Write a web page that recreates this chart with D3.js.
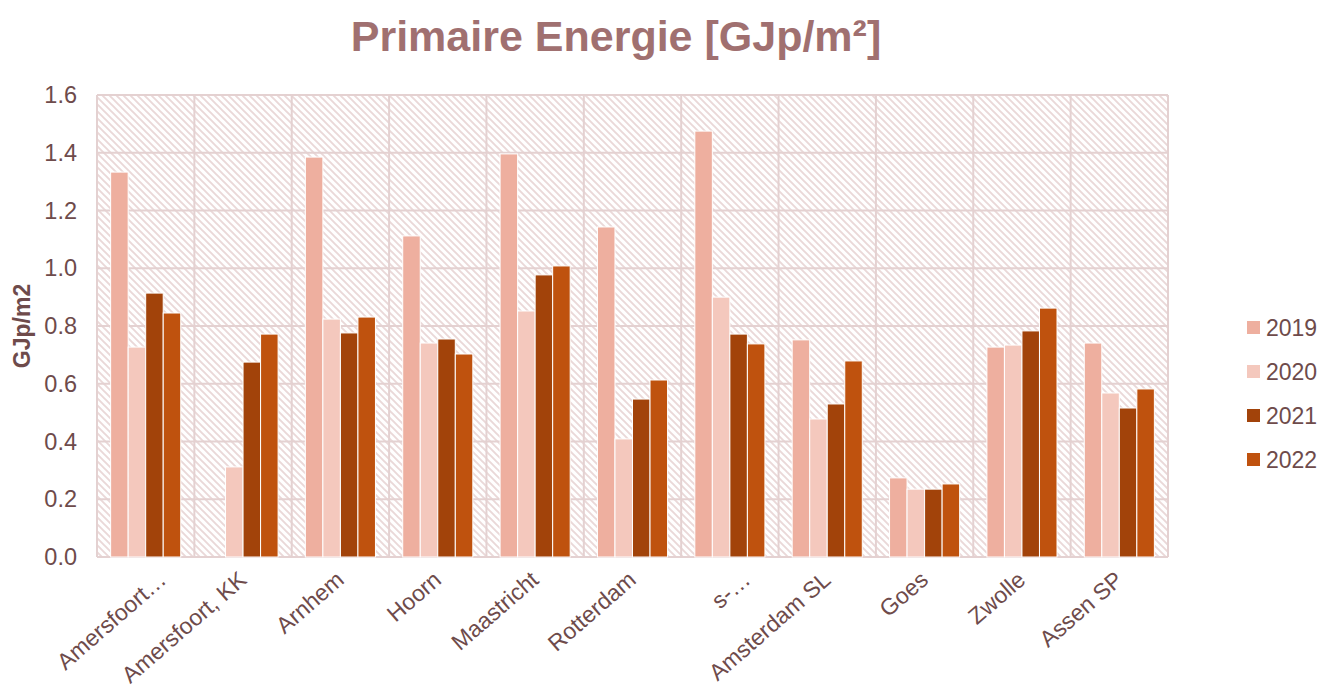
<!DOCTYPE html>
<html>
<head>
<meta charset="utf-8">
<script src="https://cdn.jsdelivr.net/npm/d3@7"></script>
<style>
    body { margin: 0; background: #fff; }
    svg { font-family: "Liberation Sans", Arial, sans-serif; }
</style>
</head>
<body>
<svg id="chart" width="1320" height="689"></svg>
<script>

const categories = ["Amersfoort\u2026", "Amersfoort, KK", "Arnhem", "Hoorn", "Maastricht",
    "Rotterdam", "s-\u2026", "Amsterdam SL", "Goes", "Zwolle", "Assen SP"];
const years = ["2019", "2020", "2021", "2022"];
const values2019 = [1.333, 0, 1.385, 1.112, 1.396, 1.143, 1.475, 0.752, 0.274, 0.727, 0.741];
const values2020 = [0.727, 0.312, 0.824, 0.741, 0.852, 0.409, 0.900, 0.478, 0.235, 0.734, 0.568];
const values2021 = [0.914, 0.675, 0.776, 0.755, 0.977, 0.547, 0.772, 0.530, 0.235, 0.783, 0.516];
const values2022 = [0.845, 0.772, 0.831, 0.703, 1.008, 0.613, 0.738, 0.679, 0.253, 0.862, 0.582];
const yTicks = [0, 0.2, 0.4, 0.6, 0.8, 1.0, 1.2, 1.4, 1.6];

const series = [values2019, values2020, values2021, values2022];
const colors = ["#EEAF9F", "#F4C8BD", "#A2430A", "#BF520E"];
const textColor = "#6E4B4B";

const margin = {left: 97, right: 152, top: 95, bottom: 132};
const width = 1320, height = 689;

let svg = d3.select("#chart");

// hatch pattern for the plot background
let defs = svg.append("defs");
let pat = defs.append("pattern")
    .attr("id", "hatch")
    .attr("patternUnits", "userSpaceOnUse")
    .attr("width", 7)
    .attr("height", 7);
pat.append("rect").attr("width", 7).attr("height", 7).attr("fill", "#fff");
pat.append("path")
    .attr("d", "M-1,-1 L8,8 M-8,-1 L1,8 M6,-1 L15,8")
    .attr("stroke", "#EAD8D8")
    .attr("stroke-width", 1.9);

let x0 = d3.scaleBand()
    .domain(categories)
    .range([margin.left, width - margin.right])
    .paddingInner(0.28)
    .paddingOuter(0.14);

let x1 = d3.scaleBand()
    .domain(years)
    .range([0, x0.bandwidth()]);

let y = d3.scaleLinear()
    .domain([0, 1.6])
    .range([height - margin.bottom, margin.top]);

let plotW = width - margin.right - margin.left;
let plotH = height - margin.bottom - margin.top;

svg.append("rect")
    .attr("x", margin.left)
    .attr("y", margin.top)
    .attr("width", plotW)
    .attr("height", plotH)
    .attr("fill", "url(#hatch)");

// horizontal gridlines
svg.append("g")
    .selectAll("line")
    .data(yTicks)
    .join("line")
    .attr("x1", margin.left)
    .attr("x2", width - margin.right)
    .attr("y1", d => y(d))
    .attr("y2", d => y(d))
    .attr("stroke", "#E4D1D1")
    .attr("stroke-width", 2);

// vertical gridlines at category boundaries
let step = x0.step();
svg.append("g")
    .selectAll("line")
    .data(d3.range(categories.length + 1))
    .join("line")
    .attr("x1", i => margin.left + i * step)
    .attr("x2", i => margin.left + i * step)
    .attr("y1", margin.top)
    .attr("y2", height - margin.bottom)
    .attr("stroke", "#E4D1D1")
    .attr("stroke-width", 2);

// bars
years.forEach((yr, s) => {
    svg.append("g")
        .selectAll("rect")
        .data(series[s])
        .join("rect")
        .attr("x", (d, i) => x0(categories[i]) + x1(yr))
        .attr("y", d => y(d))
        .attr("width", x1.bandwidth())
        .attr("height", d => y(0) - y(d))
        .attr("fill", colors[s])
        .attr("stroke", d => d > 0 ? "#fff" : "none")
        .attr("stroke-width", 1);
});

// y axis
let yAxis = d3.axisLeft(y)
    .tickValues(yTicks)
    .tickFormat(d3.format(".1f"))
    .tickSize(0)
    .tickPadding(20);
let gy = svg.append("g")
    .attr("transform", `translate(${margin.left},0)`)
    .call(yAxis);
gy.select(".domain").remove();
gy.selectAll("text")
    .attr("fill", textColor)
    .attr("font-size", 23.5);

// x axis labels (truncated ones sit a bit further right)
svg.append("g")
    .selectAll("text")
    .data(categories)
    .join("text")
    .attr("transform", d => {
        let dx = d.endsWith("\u2026") ? 22 : 5;
        return `translate(${x0(d) + x0.bandwidth() / 2 + dx},${height - margin.bottom + 25}) rotate(-41)`;
    })
    .attr("text-anchor", "end")
    .attr("fill", textColor)
    .attr("font-size", 23)
    .text(d => d);

// axis title
svg.append("text")
    .attr("transform", `translate(30,${margin.top + plotH / 2}) rotate(-90)`)
    .attr("text-anchor", "middle")
    .attr("fill", textColor)
    .attr("font-size", 23)
    .attr("font-weight", "bold")
    .text("GJp/m2");

// chart title
svg.append("text")
    .attr("x", 616)
    .attr("y", 51)
    .attr("text-anchor", "middle")
    .attr("fill", "#A07070")
    .attr("font-size", 43)
    .attr("font-weight", "bold")
    .text("Primaire Energie [GJp/m\u00B2]");

// legend
let legend = svg.append("g")
    .selectAll("g")
    .data(years)
    .join("g")
    .attr("transform", (d, i) => `translate(1247,${321 + i * 44})`);
legend.append("rect")
    .attr("width", 13)
    .attr("height", 13)
    .attr("fill", (d, i) => colors[i]);
legend.append("text")
    .attr("x", 19)
    .attr("y", 15)
    .attr("fill", textColor)
    .attr("font-size", 23)
    .text(d => d);

</script>
</body>
</html>
